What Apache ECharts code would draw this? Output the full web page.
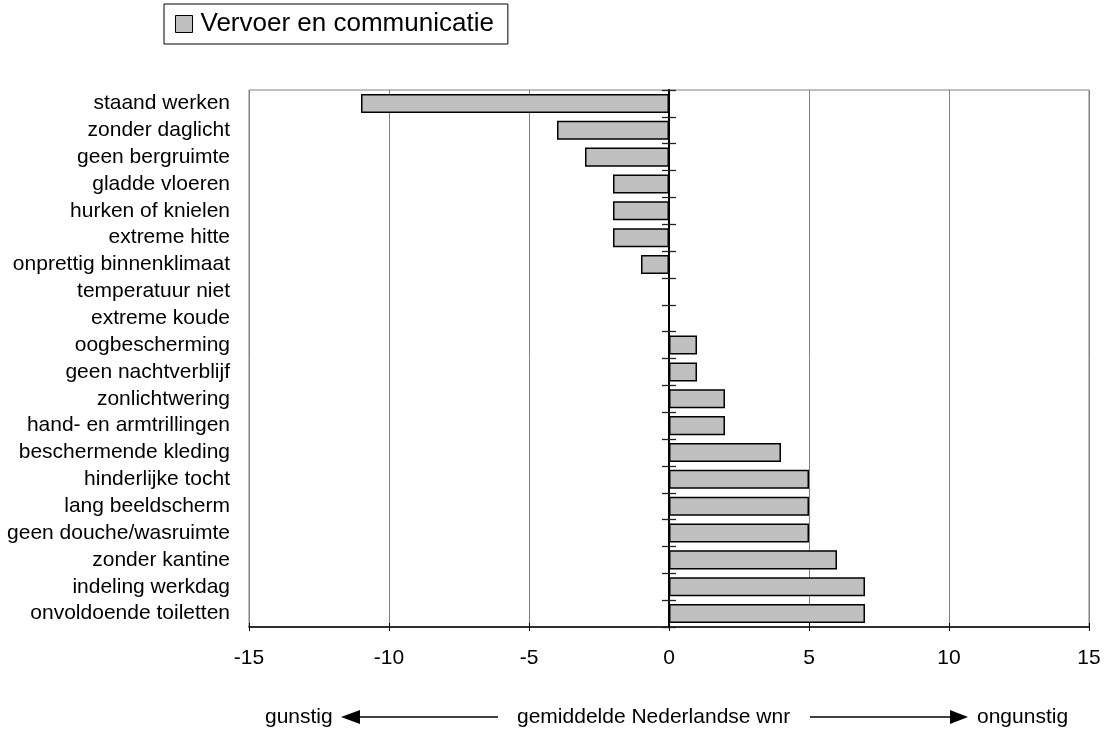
<!DOCTYPE html>
<html>
<head>
<meta charset="utf-8">
<script src="https://cdn.jsdelivr.net/npm/echarts@6/dist/echarts.min.js"></script>
<style>
  html, body { margin: 0; padding: 0; background: #ffffff; }
  #chart { width: 1104px; height: 733px; }
</style>
</head>
<body>
<div id="chart"></div>
<script>
const seriesName = 'Vervoer en communicatie';
const categories = [
  'staand werken', 'zonder daglicht', 'geen bergruimte', 'gladde vloeren',
  'hurken of knielen', 'extreme hitte', 'onprettig binnenklimaat', 'temperatuur niet',
  'extreme koude', 'oogbescherming', 'geen nachtverblijf', 'zonlichtwering',
  'hand- en armtrillingen', 'beschermende kleding', 'hinderlijke tocht', 'lang beeldscherm',
  'geen douche/wasruimte', 'zonder kantine', 'indeling werkdag', 'onvoldoende toiletten'
];
const values = [-11, -4, -3, -2, -2, -2, -1, 0, 0, 1, 1, 2, 2, 4, 5, 5, 5, 6, 7, 7];
const xMin = -15, xMax = 15, xStep = 5;
const axisTitle = 'gemiddelde Nederlandse wnr';
const leftWord = 'gunstig';
const rightWord = 'ongunstig';

const FONT = 'Liberation Sans, Arial, sans-serif';
const FS = 21;

const chart = echarts.init(document.getElementById('chart'), null, { renderer: 'canvas' });

const option = {
  backgroundColor: '#ffffff',
  animation: false,
  textStyle: { fontFamily: FONT, color: '#000' },
  legend: {
    left: 164, top: 4,
    padding: [7, 14, 7, 11],
    borderColor: '#000', borderWidth: 1,
    itemWidth: 17, itemHeight: 17,
    icon: 'rect',
    itemStyle: { color: '#c0c0c0', borderColor: '#000', borderWidth: 1 },
    textStyle: { fontFamily: FONT, fontSize: 26, color: '#000', padding: [0, 0, 0, 3] },
    data: [seriesName]
  },
  grid: {
    left: 249, right: 15, top: 90, bottom: 106,
    show: true, borderColor: '#808080', borderWidth: 1, backgroundColor: 'transparent'
  },
  xAxis: [
    {
      type: 'value', min: xMin, max: xMax, interval: xStep, position: 'bottom',
      axisLine: { show: true, onZero: false, lineStyle: { color: '#000', width: 1.5 } },
      axisTick: { show: true, length: 4, inside: false, lineStyle: { color: '#000' } },
      axisLabel: { fontFamily: FONT, fontSize: FS, color: '#000', margin: 21 },
      splitLine: { show: true, lineStyle: { color: '#808080', width: 1 } }
    },
    {
      type: 'value', min: xMin, max: xMax, interval: xStep, position: 'bottom',
      axisLine: { show: false, onZero: false },
      axisTick: { show: true, length: 4, inside: true, lineStyle: { color: '#000' } },
      axisLabel: { show: false },
      splitLine: { show: false }
    }
  ],
  yAxis: [
    {
      type: 'category', data: categories, inverse: true, position: 'left',
      axisLine: { show: false, onZero: false },
      axisTick: { show: false },
      axisLabel: { fontFamily: FONT, fontSize: FS, color: '#000', margin: 19, interval: 0, hideOverlap: false },
      splitLine: { show: false }
    },
    {
      type: 'category', data: categories, inverse: true, position: 'left',
      axisLine: { show: true, onZero: true, lineStyle: { color: '#000', width: 2 } },
      axisTick: { show: true, length: 7, inside: false, interval: 0, lineStyle: { color: '#222', width: 1.3 } },
      axisLabel: { show: false, interval: 0 },
      splitLine: { show: false }
    },
    {
      type: 'category', data: categories, inverse: true, position: 'left',
      axisLine: { show: false, onZero: true },
      axisTick: { show: true, length: 7, inside: true, interval: 0, lineStyle: { color: '#222', width: 1.3 } },
      axisLabel: { show: false, interval: 0 },
      splitLine: { show: false }
    }
  ],
  series: [
    {
      name: seriesName,
      type: 'bar',
      xAxisIndex: 0, yAxisIndex: 0,
      data: values,
      barWidth: '71%',
      itemStyle: { color: '#c0c0c0', borderColor: '#000', borderWidth: 1.5 },
      z: 1
    }
  ],
  graphic: [
    { type: 'text', style: { x: 265, y: 717, text: leftWord, font: FS + 'px ' + FONT, fill: '#000', verticalAlign: 'middle' } },
    { type: 'polygon', shape: { points: [[341, 717], [360, 710], [360, 724]] }, style: { fill: '#000' } },
    { type: 'line', shape: { x1: 360, y1: 717, x2: 498, y2: 717 }, style: { stroke: '#000', lineWidth: 1.5 } },
    { type: 'text', style: { x: 517, y: 717, text: axisTitle, font: FS + 'px ' + FONT, fill: '#000', verticalAlign: 'middle' } },
    { type: 'line', shape: { x1: 810, y1: 717, x2: 950, y2: 717 }, style: { stroke: '#000', lineWidth: 1.5 } },
    { type: 'polygon', shape: { points: [[968, 717], [950, 710], [950, 724]] }, style: { fill: '#000' } },
    { type: 'text', style: { x: 977, y: 717, text: rightWord, font: FS + 'px ' + FONT, fill: '#000', verticalAlign: 'middle' } }
  ]
};

chart.setOption(option);
</script>
</body>
</html>
